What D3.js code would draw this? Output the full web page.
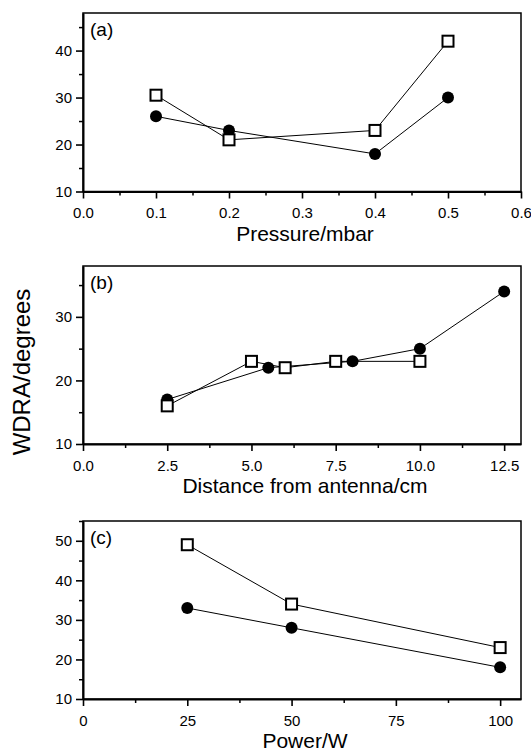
<!DOCTYPE html>
<html><head><meta charset="utf-8">
<script src="https://cdn.jsdelivr.net/npm/d3@7"></script>
<style>
body{margin:0;background:#fff}
svg{display:block}
text{font-family:"Liberation Sans",Arial,Helvetica,sans-serif;fill:#000}
</style>
</head><body>
<svg id="chart" width="531" height="752"></svg>
<script>
// ---- Data ----
// Panel (a): pressure
const pressureX = [0.1, 0.2, 0.4, 0.5];
const pressureSquares = [30.5, 21, 23, 42];
const pressureCircles = [26, 23, 18, 30];
// Panel (b): distance from antenna
const distanceCirclesX = [2.5, 5.5, 8, 10, 12.5];
const distanceCircles = [17, 22, 23, 25, 34];
const distanceSquaresX = [2.5, 5, 6, 7.5, 10];
const distanceSquares = [16, 23, 22, 23, 23];
// Panel (c): power
const powerX = [25, 50, 100];
const powerSquares = [49, 34, 23];
const powerCircles = [33, 28, 18];
// Tick values
const pressureTicks = [0, 0.1, 0.2, 0.3, 0.4, 0.5, 0.6];
const distanceTicks = [0, 2.5, 5, 7.5, 10, 12.5];
const powerTicks = [0, 25, 50, 75, 100];
const yTicksA = [10, 20, 30, 40];
const yTicksB = [10, 20, 30];
const yTicksC = [10, 20, 30, 40, 50];
const panelLabels = ["(a)", "(b)", "(c)"];
const xTitles = ["Pressure/mbar", "Distance from antenna/cm", "Power/W"];
const yTitle = "WDRA/degrees";

const svg = d3.select("#chart");
const L = 83, R = 521;

const panels = [
  {top: 13, bottom: 191.5, xd: [0, 0.6], yd: [10, 48], xt: pressureTicks, xmStep: 0.05, yt: yTicksA, fmt: d3.format(".1f"),
   sq: pressureX.map((x,i)=>[x, pressureSquares[i]]), ci: pressureX.map((x,i)=>[x, pressureCircles[i]])},
  {top: 266, bottom: 444, xd: [0, 13], yd: [10, 38], xt: distanceTicks, xmStep: 1.25, yt: yTicksB, fmt: d3.format(".1f"),
   sq: distanceSquaresX.map((x,i)=>[x, distanceSquares[i]]), ci: distanceCirclesX.map((x,i)=>[x, distanceCircles[i]])},
  {top: 521, bottom: 699, xd: [0, 105], yd: [10, 55], xt: powerTicks, xmStep: 12.5, yt: yTicksC, fmt: d3.format("d"),
   sq: powerX.map((x,i)=>[x, powerSquares[i]]), ci: powerX.map((x,i)=>[x, powerCircles[i]])}
];

panels.forEach((p, idx) => {
  const x = d3.scaleLinear().domain(p.xd).range([L, R]);
  const y = d3.scaleLinear().domain(p.yd).range([p.bottom, p.top]);
  const g = svg.append("g");

  // frame
  g.append("rect").attr("x", L).attr("y", p.top).attr("width", R - L).attr("height", p.bottom - p.top)
    .attr("fill", "none").attr("stroke", "#000").attr("stroke-width", 1.5);

  // minor ticks
  const xMinor = d3.range(p.xd[0], p.xd[1] + 1e-9, p.xmStep).filter(v => !p.xt.some(t => Math.abs(t - v) < 1e-9));
  const yMinor = d3.range(p.yd[0] + 5, p.yd[1] + 1e-9, 10);
  const xMinorAxis = g.append("g").attr("transform", `translate(0,${p.bottom})`)
    .call(d3.axisBottom(x).tickValues(xMinor).tickSize(4).tickSizeOuter(0).tickFormat(""));
  const yMinorAxis = g.append("g").attr("transform", `translate(${L},0)`)
    .call(d3.axisLeft(y).tickValues(yMinor).tickSize(4).tickSizeOuter(0).tickFormat(""));
  [xMinorAxis, yMinorAxis].forEach(a => { a.select(".domain").remove(); a.selectAll("line").attr("stroke-width", 1.5); });

  // major axes
  const xAxis = g.append("g").attr("transform", `translate(0,${p.bottom})`)
    .call(d3.axisBottom(x).tickValues(p.xt).tickSize(7).tickSizeOuter(0).tickPadding(9).tickFormat(p.fmt));
  const yAxis = g.append("g").attr("transform", `translate(${L},0)`)
    .call(d3.axisLeft(y).tickValues(p.yt).tickSize(7).tickSizeOuter(0).tickPadding(4).tickFormat(d3.format("d")));
  [xAxis, yAxis].forEach(a => {
    a.select(".domain").attr("stroke-width", 2);
    a.selectAll("line").attr("stroke-width", 1.6);
    a.selectAll("text").style("font-size", "15px").attr("fill", "#000");
  });

  // lines
  const line = d3.line().x(d => x(d[0])).y(d => y(d[1]));
  g.append("path").datum(p.ci).attr("d", line).attr("fill", "none").attr("stroke", "#000").attr("stroke-width", 1);
  g.append("path").datum(p.sq).attr("d", line).attr("fill", "none").attr("stroke", "#000").attr("stroke-width", 1);

  // markers
  g.selectAll("circle.c").data(p.ci).join("circle").attr("class", "c")
    .attr("cx", d => x(d[0])).attr("cy", d => y(d[1])).attr("r", 6).attr("fill", "#000");
  const s = 11;
  g.selectAll("rect.s").data(p.sq).join("rect").attr("class", "s")
    .attr("x", d => x(d[0]) - s / 2).attr("y", d => y(d[1]) - s / 2).attr("width", s).attr("height", s)
    .attr("fill", "#fff").attr("stroke", "#000").attr("stroke-width", 2);

  // panel label
  g.append("text").attr("x", L + 7).attr("y", p.top + 23).style("font-size", "19px").text(panelLabels[idx]);
  // x title
  g.append("text").attr("x", (L + R) / 2 + 3).attr("y", p.bottom + 49).attr("text-anchor", "middle")
    .style("font-size", "21px").text(xTitles[idx]);
});

// y title
svg.append("text").attr("transform", "translate(30,372) rotate(-90)").attr("text-anchor", "middle")
  .style("font-size", "24px").text(yTitle);
</script>
</body></html>
